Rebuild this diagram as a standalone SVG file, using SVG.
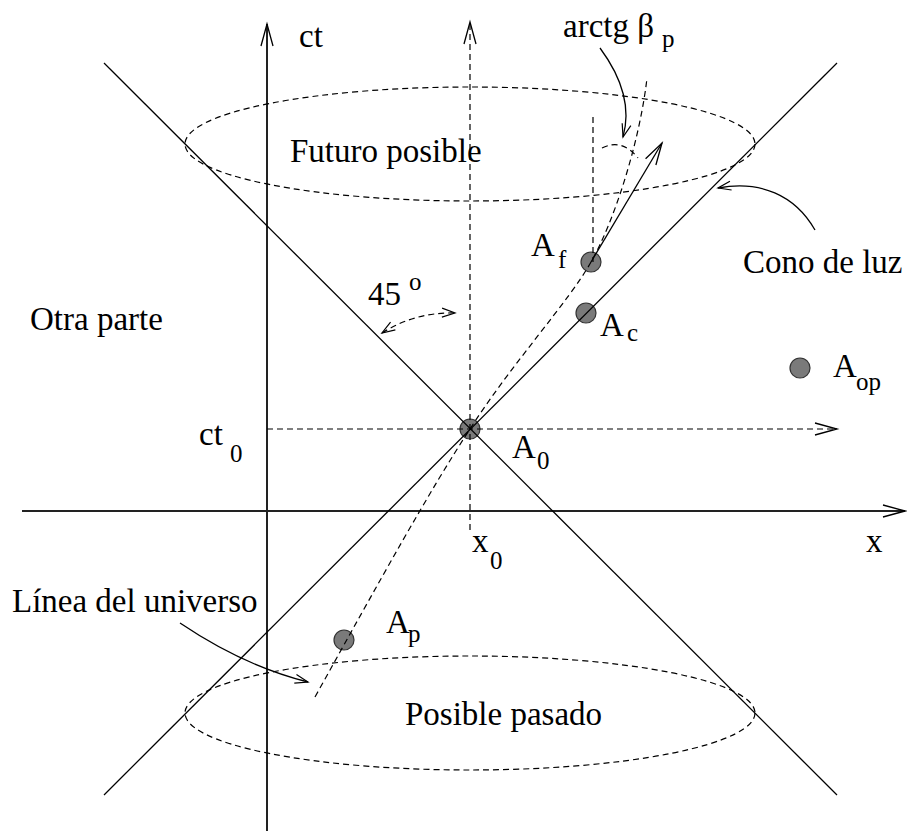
<svg xmlns="http://www.w3.org/2000/svg" width="907" height="831" viewBox="0 0 907 831">
<style>
text{font-family:"Liberation Serif","Times New Roman",serif;fill:#000}
.t{font-size:33px}
.s{font-size:25px}
.ax{stroke:#222;stroke-width:2;fill:none}
.ln{stroke:#000;stroke-width:1.3;fill:none}
.d{stroke:#000;stroke-width:1.2;fill:none;stroke-dasharray:6,4}
.dot{fill:#7a7a7a;stroke:#333;stroke-width:1.2}
</style>
<defs>
<marker id="big" markerUnits="userSpaceOnUse" markerWidth="30" markerHeight="20" viewBox="-1 -1 30 20" refX="22" refY="6" orient="auto"><path d="M0,0 L22,6 L0,12" fill="none" stroke="#000" stroke-width="1.3"/></marker>
<marker id="sm" markerUnits="userSpaceOnUse" markerWidth="20" markerHeight="14" viewBox="-1 -1 20 14" refX="13" refY="4.5" orient="auto-start-reverse"><path d="M0,0 L13,4.5 L0,9" fill="none" stroke="#000" stroke-width="1.2"/></marker>
</defs>
<rect width="907" height="831" fill="#fff"/>

<g id="nodes">
<g id="A0"><circle class="dot" cx="470" cy="429" r="10"/><text class="t" x="512" y="458">A</text><text class="s" x="537" y="469">0</text></g>
<g id="Af"><circle class="dot" cx="591" cy="262" r="10"/><text class="t" x="531" y="256">A</text><text class="s" x="558" y="268">f</text></g>
<g id="Ac"><circle class="dot" cx="586" cy="313" r="10"/><text class="t" x="600" y="336">A</text><text class="s" x="627" y="341">c</text></g>
<g id="Aop"><circle class="dot" cx="800" cy="368" r="10"/><text class="t" x="833" y="377">A</text><text class="s" x="856" y="390">op</text></g>
<g id="Ap"><circle class="dot" cx="344" cy="640" r="10"/><text class="t" x="386" y="633">A</text><text class="s" x="408" y="642">p</text></g>
</g>

<g id="connectors">
<line class="ax" x1="267" y1="831" x2="267" y2="24" marker-end="url(#big)"/>
<line class="ax" x1="22" y1="511" x2="905" y2="511" marker-end="url(#big)"/>
<line class="ln" x1="104" y1="63" x2="837" y2="795"/>
<line class="ln" x1="837" y1="63" x2="104" y2="795"/>
<ellipse class="d" cx="470" cy="144" rx="285" ry="57"/>
<ellipse class="d" cx="470" cy="713" rx="285" ry="57"/>
<line class="d" x1="470" y1="530" x2="470" y2="22" marker-end="url(#big)"/>
<line class="d" x1="267" y1="429" x2="837" y2="429" marker-end="url(#big)"/>
<path class="d" d="M315,697 C380,580 430,490 470,429 C510,366 570,300 591,262 C615,220 640,140 647,78"/>
<line class="ln" x1="591" y1="262" x2="662" y2="143" marker-end="url(#big)"/>
<line class="d" x1="593" y1="117" x2="593" y2="262"/>
<path class="d" d="M602,148 Q622,138 638,158"/>
<path class="d" d="M382,333 Q415,312 455,313" marker-start="url(#sm)" marker-end="url(#sm)"/>
<path class="ln" d="M600,48 C620,75 632,105 623,137" marker-end="url(#sm)"/>
<path class="ln" d="M815,230 C795,195 760,180 718,188" marker-end="url(#sm)"/>
<path class="ln" d="M180,623 C220,650 260,670 308,682" marker-end="url(#sm)"/>
</g>

<g id="labels">
<text class="t" x="299" y="47">ct</text>
<text class="t" x="563" y="37">arctg β</text><text class="s" x="662" y="47">p</text>
<text class="t" x="290" y="162">Futuro posible</text>
<text class="t" x="743" y="273">Cono de luz</text>
<text class="t" x="30" y="330">Otra parte</text>
<text class="t" x="368" y="305">45</text><text class="s" x="409" y="290">o</text>
<text class="t" x="199" y="445">ct</text><text class="s" x="230" y="462">0</text>
<text class="t" x="472" y="552">x</text><text class="s" x="490" y="569">0</text>
<text class="t" x="866" y="552">x</text>
<text class="t" x="12" y="612">Línea del universo</text>
<text class="t" x="405" y="725">Posible pasado</text>
</g>
</svg>
